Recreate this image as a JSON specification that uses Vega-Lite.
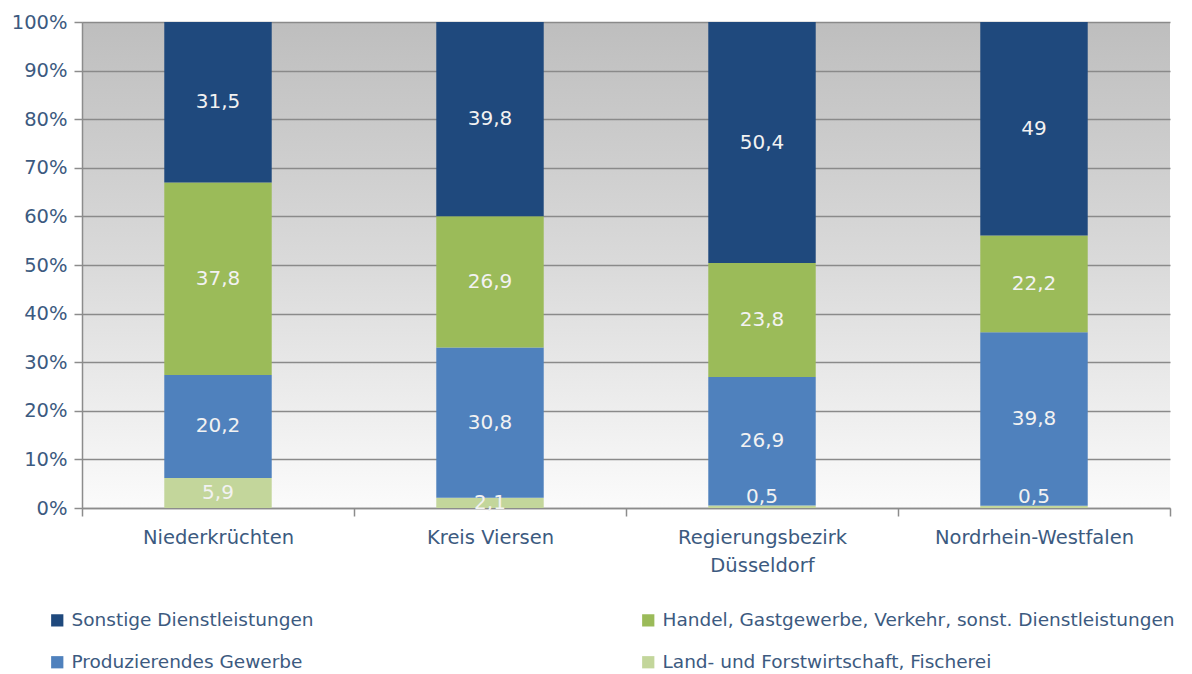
{
  "$schema": "https://vega.github.io/schema/vega-lite/v6.json",
  "width": 1088,
  "height": 486,
  "autosize": {"type": "none"},
  "padding": {"left": 82, "top": 22, "right": 22, "bottom": 166},
  "background": "white",
  "config": {
    "font": "DejaVu Sans",
    "view": {
      "stroke": null,
      "fill": {
        "gradient": "linear",
        "x1": 0, "y1": 0, "x2": 0, "y2": 1,
        "stops": [
          {"offset": 0, "color": "#bebebe"},
          {"offset": 0.5, "color": "#dadada"},
          {"offset": 1, "color": "#fbfbfb"}
        ]
      }
    },
    "axisY": {
      "title": null,
      "format": ".0%",
      "values": [0, 0.1, 0.2, 0.3, 0.4, 0.5, 0.6, 0.7, 0.8, 0.9, 1],
      "labelOverlap": false,
      "labelFontSize": 19.5,
      "labelColor": "#3c5a80",
      "labelPadding": 7,
      "tickSize": 8,
      "tickColor": "#8c8c8c",
      "tickWidth": 1.5,
      "domainColor": "#8c8c8c",
      "domainWidth": 1.5,
      "grid": true,
      "gridColor": "#8a8a8a",
      "gridWidth": 1.5
    }
  },
  "data": {
    "values": [
      {"region": "Niederkrüchten", "sector": "Land- und Forstwirtschaft, Fischerei", "rank": 1, "value": 5.9, "label": "5,9"},
      {"region": "Niederkrüchten", "sector": "Produzierendes Gewerbe", "rank": 2, "value": 20.2, "label": "20,2"},
      {"region": "Niederkrüchten", "sector": "Handel, Gastgewerbe, Verkehr, sonst. Dienstleistungen", "rank": 3, "value": 37.8, "label": "37,8"},
      {"region": "Niederkrüchten", "sector": "Sonstige Dienstleistungen", "rank": 4, "value": 31.5, "label": "31,5"},
      {"region": "Kreis Viersen", "sector": "Land- und Forstwirtschaft, Fischerei", "rank": 1, "value": 2.1, "label": "2,1"},
      {"region": "Kreis Viersen", "sector": "Produzierendes Gewerbe", "rank": 2, "value": 30.8, "label": "30,8"},
      {"region": "Kreis Viersen", "sector": "Handel, Gastgewerbe, Verkehr, sonst. Dienstleistungen", "rank": 3, "value": 26.9, "label": "26,9"},
      {"region": "Kreis Viersen", "sector": "Sonstige Dienstleistungen", "rank": 4, "value": 39.8, "label": "39,8"},
      {"region": "Regierungsbezirk Düsseldorf", "sector": "Land- und Forstwirtschaft, Fischerei", "rank": 1, "value": 0.5, "label": "0,5"},
      {"region": "Regierungsbezirk Düsseldorf", "sector": "Produzierendes Gewerbe", "rank": 2, "value": 26.9, "label": "26,9"},
      {"region": "Regierungsbezirk Düsseldorf", "sector": "Handel, Gastgewerbe, Verkehr, sonst. Dienstleistungen", "rank": 3, "value": 23.8, "label": "23,8"},
      {"region": "Regierungsbezirk Düsseldorf", "sector": "Sonstige Dienstleistungen", "rank": 4, "value": 50.4, "label": "50,4"},
      {"region": "Nordrhein-Westfalen", "sector": "Land- und Forstwirtschaft, Fischerei", "rank": 1, "value": 0.5, "label": "0,5"},
      {"region": "Nordrhein-Westfalen", "sector": "Produzierendes Gewerbe", "rank": 2, "value": 39.8, "label": "39,8"},
      {"region": "Nordrhein-Westfalen", "sector": "Handel, Gastgewerbe, Verkehr, sonst. Dienstleistungen", "rank": 3, "value": 22.2, "label": "22,2"},
      {"region": "Nordrhein-Westfalen", "sector": "Sonstige Dienstleistungen", "rank": 4, "value": 49, "label": "49"}
    ]
  },
  "encoding": {
    "x": {
      "field": "region",
      "type": "nominal",
      "sort": null,
      "scale": {"paddingInner": 0, "paddingOuter": 0},
      "axis": {
        "title": null,
        "labelAngle": 0,
        "labelFontSize": 19.5,
        "labelColor": "#3c5a80",
        "labelPadding": 12,
        "labelLineHeight": 28,
        "labelLimit": 400,
        "labelExpr": "datum.value == 'Regierungsbezirk Düsseldorf' ? ['Regierungsbezirk', 'Düsseldorf'] : datum.value",
        "tickBand": "extent",
        "ticks": true,
        "tickSize": 8,
        "tickColor": "#8c8c8c",
        "tickWidth": 1.5,
        "domainColor": "#8c8c8c",
        "domainWidth": 1.5,
        "grid": false
      }
    }
  },
  "layer": [
    {
      "mark": {"type": "bar", "width": {"band": 0.395}},
      "encoding": {
        "y": {"field": "value", "type": "quantitative", "stack": "normalize", "scale": {"domain": [0, 1], "nice": false}},
        "order": {"field": "rank", "type": "quantitative"},
        "color": {
          "field": "sector",
          "type": "nominal",
          "scale": {
            "domain": ["Sonstige Dienstleistungen", "Produzierendes Gewerbe", "Handel, Gastgewerbe, Verkehr, sonst. Dienstleistungen", "Land- und Forstwirtschaft, Fischerei"],
            "range": ["#1f497d", "#4f81bd", "#9bbb59", "#c3d69b"]
          },
          "legend": {
            "title": null,
            "orient": "none",
            "legendX": -34,
            "legendY": 589,
            "columns": 2,
            "columnPadding": 325,
            "rowPadding": 23,
            "symbolType": "square",
            "symbolSize": 150,
            "symbolStrokeWidth": 0,
            "labelFontSize": 18.5,
            "labelColor": "#3c5a80",
            "labelOffset": 5,
            "labelLimit": 700
          }
        }
      }
    },
    {
      "mark": {"type": "text", "fontSize": 20, "color": "#f2f2f2", "baseline": "middle"},
      "encoding": {
        "y": {"field": "value", "type": "quantitative", "stack": "normalize", "bandPosition": 0.5},
        "order": {"field": "rank", "type": "quantitative"},
        "text": {"condition": {"test": "datum.value < 1", "value": ""}, "field": "label", "type": "nominal"}
      }
    },
    {
      "transform": [
        {"stack": "value", "groupby": ["region"], "sort": [{"field": "rank", "order": "ascending"}], "offset": "normalize", "as": ["y0", "y1"]},
        {"filter": "datum.value < 1"}
      ],
      "mark": {"type": "text", "fontSize": 20, "color": "#f2f2f2", "baseline": "bottom", "dy": 1},
      "encoding": {
        "y": {"field": "y1", "type": "quantitative"},
        "text": {"field": "label", "type": "nominal"}
      }
    }
  ]
}
